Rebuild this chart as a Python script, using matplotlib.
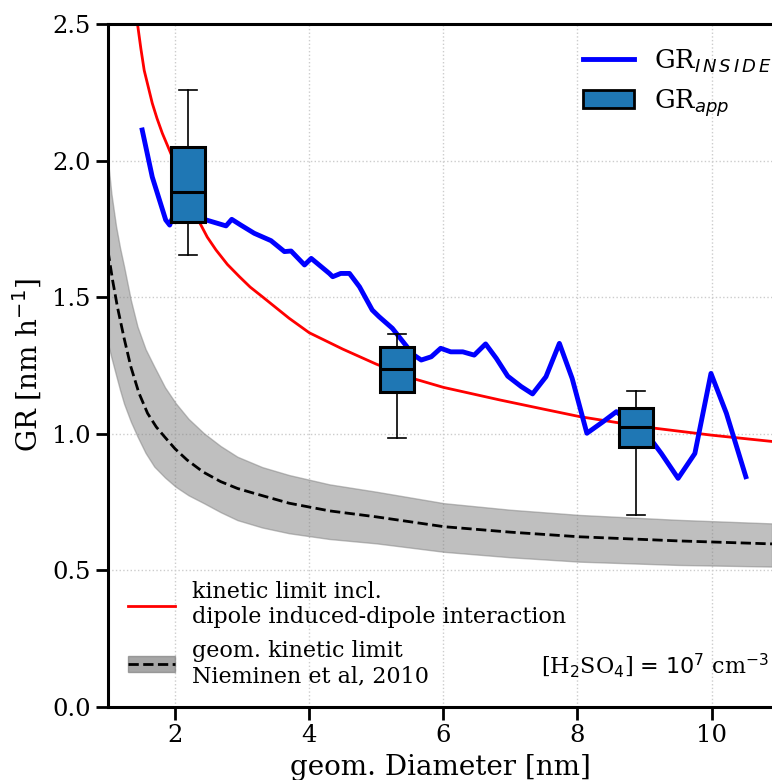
import matplotlib
matplotlib.use("Agg")
import matplotlib.pyplot as plt
from matplotlib.lines import Line2D
from matplotlib.patches import Patch

# ---------------- data ----------------
# GR_INSIDE (blue line)
inside_d = [1.51, 1.66, 1.86, 1.92, 1.96, 2.46, 2.76, 2.845, 2.98, 3.18, 3.43, 3.63, 3.73,
            3.93, 4.03, 4.30, 4.35, 4.47, 4.60, 4.75, 4.94, 5.04, 5.24, 5.55, 5.67,
            5.82, 5.96, 6.11, 6.29, 6.46, 6.63, 6.79, 6.96, 7.16, 7.33, 7.53, 7.73,
            7.92, 8.14, 8.38, 8.58, 9.12, 9.25, 9.50, 9.75, 9.99, 10.22, 10.51]
inside_gr = [2.112, 1.94, 1.783, 1.764, 1.79, 1.783, 1.761, 1.785, 1.764, 1.734, 1.707, 1.667, 1.669,
             1.618, 1.642, 1.587, 1.575, 1.587, 1.587, 1.538, 1.453, 1.429, 1.386, 1.29, 1.27,
             1.282, 1.313, 1.300, 1.300, 1.288, 1.329, 1.276, 1.211, 1.173, 1.146, 1.209, 1.331,
             1.203, 1.002, 1.044, 1.081, 0.971, 0.928, 0.837, 0.928, 1.221, 1.075, 0.843]

# GR_app boxes
box_pos = [2.19, 5.31, 8.87]
box_whislo = [1.655, 0.985, 0.703]
box_q1 = [1.775, 1.153, 0.952]
box_med = [1.885, 1.237, 1.025]
box_q3 = [2.05, 1.318, 1.094]
box_whishi = [2.258, 1.365, 1.157]

# kinetic limit incl. dipole induced-dipole interaction (red)
dip_d = [1.44, 1.49, 1.54, 1.60, 1.66, 1.73, 1.81, 1.93, 2.10, 2.36, 2.48, 2.61, 2.78,
         2.96, 3.12, 3.30, 3.70, 4.0, 4.5, 5.0, 5.54, 6.0, 6.84, 7.5, 8.03, 9.0, 10.0, 10.9]
dip_gr = [2.50, 2.41, 2.33, 2.27, 2.21, 2.155, 2.10, 2.03, 1.93, 1.776, 1.72, 1.673, 1.62,
          1.575, 1.537, 1.502, 1.423, 1.37, 1.31, 1.255, 1.203, 1.17, 1.124, 1.09, 1.063,
          1.025, 0.995, 0.972]

# geometric kinetic limit (Nieminen et al. 2010), dashed line
geo_d = [1.0, 1.07, 1.14, 1.24, 1.34, 1.46, 1.59, 1.72, 1.84, 2.0, 2.18, 2.42, 2.68, 2.93,
         3.18, 3.70, 4.3, 5.0, 6.01, 7.0, 8.03, 9.5, 10.9]
geo_gr = [1.67, 1.56, 1.465, 1.35, 1.246, 1.15, 1.075, 1.025, 0.99, 0.945, 0.904, 0.86, 0.825,
          0.80, 0.782, 0.746, 0.718, 0.696, 0.66, 0.64, 0.623, 0.608, 0.597]

# uncertainty band
band_d = [1.0, 1.05, 1.12, 1.18, 1.24, 1.34, 1.44, 1.56, 1.69, 1.85, 2.01, 2.2, 2.43, 2.68,
          2.93, 3.3, 3.70, 4.3, 5.0, 6.01, 7.0, 8.03, 9.5, 10.9]
band_hi = [2.0, 1.88, 1.76, 1.68, 1.612, 1.49, 1.392, 1.31, 1.246, 1.17, 1.112, 1.055, 1.002,
           0.955, 0.916, 0.878, 0.849, 0.815, 0.788, 0.746, 0.722, 0.703, 0.685, 0.672]
band_lo = [1.33, 1.28, 1.215, 1.16, 1.11, 1.045, 0.99, 0.93, 0.88, 0.84, 0.806, 0.775, 0.746,
           0.713, 0.684, 0.657, 0.636, 0.615, 0.599, 0.568, 0.548, 0.532, 0.52, 0.514]

x_ticks = [2, 4, 6, 8, 10]
y_ticks = [0.0, 0.5, 1.0, 1.5, 2.0, 2.5]

# ---------------- plot ----------------
plt.rcParams['font.family'] = ['DejaVu Serif']
plt.rcParams['mathtext.fontset'] = 'dejavusans'

fig = plt.figure(figsize=(7.72, 7.8), dpi=100)
ax = fig.add_axes([108 / 772, (780 - 707) / 780, (772 - 108) / 772, (707 - 24) / 780])

ax.fill_between(band_d, band_lo, band_hi, color='grey', alpha=0.5, lw=1, edgecolor='grey', zorder=1)
ax.plot(geo_d, geo_gr, ls='--', color='black', lw=2, zorder=2)
ax.plot(dip_d, dip_gr, color='red', lw=2, zorder=2)
ax.plot(inside_d, inside_gr, color='blue', lw=3.5, zorder=3)

stats = []
for p, lo, q1, med, q3, hi in zip(box_pos, box_whislo, box_q1, box_med, box_q3, box_whishi):
    stats.append(dict(med=med, q1=q1, q3=q3, whislo=lo, whishi=hi, fliers=[]))
bp = ax.bxp(stats, positions=box_pos, widths=0.5, patch_artist=True, showfliers=False,
            boxprops=dict(facecolor='#1f77b4', edgecolor='black', linewidth=2.2),
            medianprops=dict(color='black', linewidth=2.2),
            whiskerprops=dict(color='black', linewidth=1.2),
            capprops=dict(color='black', linewidth=1.2), capwidths=0.27,
            zorder=4, manage_ticks=False)

ax.set_xlim(1.0, 10.9)
ax.set_ylim(0, 2.5)
ax.set_xticks(x_ticks)
ax.set_xticklabels([str(t) for t in x_ticks])
ax.set_yticks(y_ticks)
ax.set_yticklabels([f"{t:.1f}" for t in y_ticks])
ax.grid(True, ls=':', color='#cccccc', lw=1)
ax.set_axisbelow(True)
for s in ['left', 'bottom', 'top']:
    ax.spines[s].set_linewidth(2.2)
ax.spines['right'].set_visible(False)
ax.tick_params(axis='both', which='major', labelsize=17.5, length=9, width=2, direction='out')

ax.set_xlabel('geom. Diameter [nm]', fontsize=20, labelpad=5)
ax.set_ylabel(r'GR [nm h$^{-1}$]', fontsize=20, labelpad=6)

h1 = [Line2D([], [], color='blue', lw=3.5),
      Patch(facecolor='#1f77b4', edgecolor='black', linewidth=2)]
leg1 = ax.legend(h1, [r'GR$_{I\,N\,S\,I\,D\,E}$', r'GR$_{app}$'], loc='upper right',
                 bbox_to_anchor=(1.035, 1.0), frameon=False,
                 fontsize=18.5, handlelength=2.0)
ax.add_artist(leg1)

h2 = [Line2D([], [], color='red', lw=2),
      (Patch(facecolor='grey', alpha=0.7, edgecolor='grey'),
       Line2D([], [], color='black', ls='--', lw=2))]
ax.legend(h2, ['kinetic limit incl.\ndipole induced-dipole interaction',
               'geom. kinetic limit\nNieminen et al, 2010'],
          loc='lower left', frameon=False, fontsize=16, handlelength=2.1)

ax.text(0.995, 0.04, r'[H$_2$SO$_4$] = $10^7$ cm$^{-3}$', transform=ax.transAxes,
        ha='right', va='bottom', fontsize=16)

fig.savefig('out.png', dpi=100)
